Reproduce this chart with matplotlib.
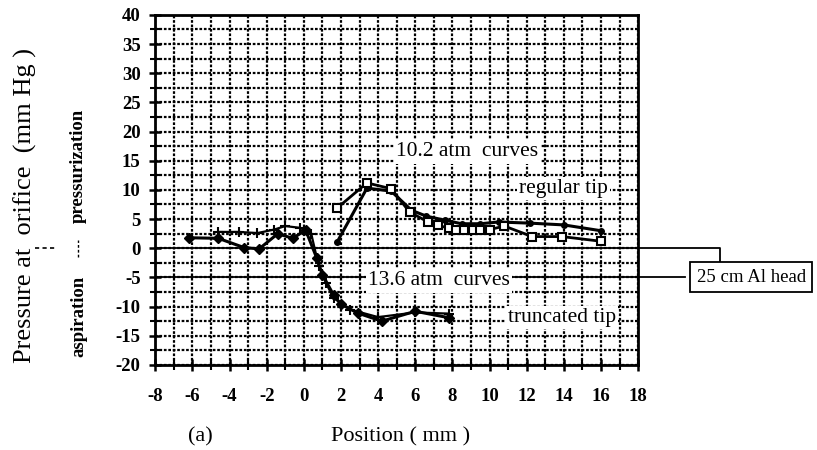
import matplotlib
matplotlib.use("Agg")
import matplotlib.pyplot as plt
from matplotlib.ticker import MultipleLocator

plt.rcParams['font.family'] = ['Liberation Serif', 'DejaVu Serif']
plt.rcParams['axes.unicode_minus'] = False

# ---- data ----
# regular tip, 10.2 atm (open squares)
reg_a_x = [1.8, 3.4, 4.7, 5.7, 6.7, 7.2, 7.8, 8.2, 8.6, 9.1, 9.5, 10.0, 10.8, 12.3, 13.9, 16.0]
reg_a_y = [6.9, 11.2, 10.2, 6.2, 4.5, 4.0, 3.4, 3.2, 3.2, 3.2, 3.2, 3.2, 3.8, 2.0, 2.0, 1.2]
# regular tip, 13.6 atm (small filled)
reg_b_x = [1.8, 3.4, 4.7, 5.8, 6.6, 7.6, 8.5, 9.5, 10.5, 12.2, 14.0, 16.0]
reg_b_y = [1.1, 10.3, 9.8, 6.5, 5.5, 4.8, 4.2, 4.2, 4.5, 4.3, 4.0, 3.0]
# truncated tip, 13.6 atm (filled diamonds)
trn_a_x = [-6.2, -4.6, -3.2, -2.4, -1.4, -0.6, 0.1, 0.7, 1.0, 1.6, 2.0, 2.9, 4.2, 6.0, 7.8]
trn_a_y = [1.8, 1.7, 0.1, -0.1, 2.5, 1.7, 3.1, -1.7, -4.5, -8.0, -9.6, -11.1, -12.5, -10.8, -11.9]
# truncated tip, 10.2 atm (plus markers)
trn_b_x = [-4.6, -3.5, -2.5, -1.6, -1.0, -0.2, 0.4, 0.8, 1.2, 1.6, 2.5, 4.0, 6.0, 7.8]
trn_b_y = [2.8, 2.8, 2.6, 3.2, 3.8, 3.5, 2.5, -3.0, -6.0, -8.5, -10.5, -11.8, -11.0, -11.2]

x_ticks = list(range(-8, 19, 2))
y_ticks = list(range(-20, 41, 5))

fig = plt.figure(figsize=(8.17, 4.5), dpi=100)
ax = fig.add_axes([0.19, 0.189, 0.591, 0.778])

ax.set_xlim(-8, 18)
ax.set_ylim(-20, 40)
ax.xaxis.set_minor_locator(MultipleLocator(1))
ax.yaxis.set_minor_locator(MultipleLocator(2.5))
ax.set_xticks(x_ticks)
ax.set_yticks(y_ticks)
ax.grid(which='both', color='black', linestyle=(0, (1.2, 0.8)), linewidth=1.6)
ax.set_axisbelow(True)
ax.tick_params(which='major', direction='inout', length=9, width=1.8, labelsize=13.5)
ax.tick_params(axis='x', which='major', pad=12)
ax.tick_params(axis='y', which='major', pad=6)
ax.tick_params(which='minor', direction='inout', length=7, width=1.5)
for lab in ax.get_xticklabels() + ax.get_yticklabels():
    lab.set_fontweight('bold')
for s in ax.spines.values():
    s.set_linewidth(2)

ax.axhline(0, color='black', lw=1.3)
ax.axhline(-5, color='black', lw=1.3)

ax.plot(reg_a_x, reg_a_y, color='black', lw=2, marker='s', ms=6,
        mfc='white', mec='black', mew=1.5, zorder=5)
ax.plot(reg_b_x, reg_b_y, color='black', lw=2.2, marker='o', ms=4,
        mfc='black', zorder=4)
ax.plot(trn_a_x, trn_a_y, color='black', lw=2.2, marker='D', ms=5.5,
        mfc='black', zorder=5)
ax.plot(trn_b_x, trn_b_y, color='black', lw=1.6, marker='+', ms=7,
        mew=1.5, zorder=4)

box = dict(facecolor='white', edgecolor='none', pad=1.5)
ax.text(8.8, 16.5, '10.2 atm  curves', fontsize=15.5, ha='center', va='center', bbox=box, zorder=6)
ax.text(14.0, 10.2, 'regular tip', fontsize=15.5, ha='center', va='center', bbox=box, zorder=6)
ax.text(7.3, -5.6, '13.6 atm  curves', fontsize=15.5, ha='center', va='center', bbox=box, zorder=6)
ax.text(13.9, -11.9, 'truncated tip', fontsize=15.5, ha='center', va='center', bbox=box, zorder=6)

# 25 cm Al head callout outside the axes
ax.plot([18, 22.4, 22.4], [0, 0, -2.5], color='black', lw=1.3, clip_on=False)
ax.plot([18, 20.5], [-5, -5], color='black', lw=1.3, clip_on=False)
ax.text(24.1, -5.0, '25 cm Al head', fontsize=13.5, ha='center', va='center', clip_on=False,
        bbox=dict(facecolor='white', edgecolor='black', lw=1.3, boxstyle='square,pad=0.35'))

fig.text(0.49, 0.03, 'Position ( mm )', fontsize=16, ha='center', va='center')
fig.text(0.245, 0.03, '(a)', fontsize=16, ha='center', va='center')
fig.text(0.031, 0.544, 'Pressure at  orifice  (mm Hg )', fontsize=19, rotation=90,
         ha='center', va='center')
fig.text(0.096, 0.631, 'pressurization', fontsize=13.5, rotation=90, ha='center', va='center',
         fontweight='bold', fontstretch='condensed')
fig.text(0.096, 0.296, 'aspiration', fontsize=13.5, rotation=90, ha='center', va='center',
         fontweight='bold', fontstretch='condensed')
fig.lines.append(plt.Line2D([0.043, 0.070], [0.448, 0.448], transform=fig.transFigure,
                            color='black', lw=1.2, linestyle=(0, (2.5, 2))))
fig.lines.append(plt.Line2D([0.096, 0.096], [0.43, 0.466], transform=fig.transFigure,
                            color='black', lw=1.0, linestyle=(0, (2, 1.5))))

fig.savefig('out.png', dpi=100)
